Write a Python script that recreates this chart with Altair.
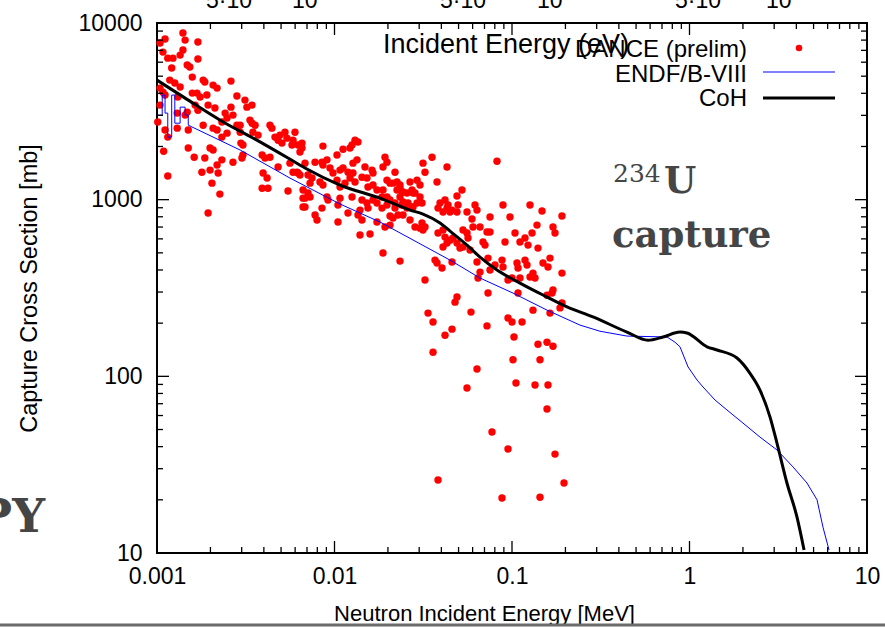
import altair as alt
import pandas as pd

# ---------------- data ----------------
dance_e = [
    1.04e-3, 1.11e-3, 1.40e-3, 1.44e-3, 1.70e-3, 1.08e-3, 1.15e-3, 1.23e-3, 1.35e-3, 1.40e-3,
    1.21e-3, 1.48e-3, 1.53e-3, 1.70e-3, 1.18e-3, 1.26e-3, 1.35e-3, 1.58e-3, 1.82e-3, 1.86e-3,
    2.07e-3, 2.18e-3, 2.61e-3, 1.04e-3, 1.08e-3, 1.11e-3, 1.58e-3, 1.68e-3, 1.75e-3, 1.91e-3,
    2.82e-3, 1.31e-3, 1.94e-3, 2.12e-3, 1.64e-3, 1.70e-3, 2.61e-3, 3.13e-3, 3.43e-3, 3.21e-3,
    1.04e-3, 1.01e-3, 1.30e-3, 1.11e-3, 1.15e-3, 1.30e-3, 1.48e-3, 1.44e-3, 1.82e-3, 1.50e-3,
    2.07e-3, 2.18e-3, 2.32e-3, 2.48e-3, 2.42e-3, 2.68e-3, 2.82e-3, 2.94e-3, 2.94e-3, 3.34e-3,
    3.43e-3, 3.57e-3, 3.47e-3, 3.71e-3, 2.48e-3, 2.32e-3, 4.33e-3, 4.44e-3, 4.62e-3, 4.93e-3,
    5.26e-3, 5.99e-3, 4.81e-3, 5.06e-3, 5.40e-3, 5.76e-3, 6.23e-3, 6.56e-3, 1.99e-3, 2.07e-3,
    1.50e-3, 1.09e-3, 2.97e-3, 3.05e-3, 1.62e-3, 1.86e-3, 2.32e-3, 2.68e-3, 3.01e-3, 3.05e-3,
    2.18e-3, 2.21e-3, 1.99e-3, 1.79e-3, 1.15e-3, 3.91e-3, 4.06e-3, 4.33e-3, 3.96e-3, 4.17e-3,
    4.81e-3, 5.61e-3, 5.84e-3, 6.23e-3, 2.04e-3, 3.91e-3, 4.22e-3, 5.47e-3, 2.26e-3, 6.65e-3,
    6.65e-3, 1.94e-3,
    # 0.006 - 0.045 MeV
    5.84e-3, 6.56e-3, 6.39e-3, 8.61e-3, 0.01305, 0.01356, 0.01255, 0.01223, 0.01117, 0.01033,
    7.77e-3, 8.50e-3, 9.07e-3, 8.61e-3, 9.43e-3, 6.82e-3, 9.81e-3, 0.01074, 0.01117, 0.01191,
    0.01271, 0.01339, 0.01271, 0.01485, 0.01626, 0.01648, 0.01925, 0.01976, 0.01876, 0.02192,
    0.03152, 0.03235, 0.03543, 0.04304, 6.15e-3, 6.39e-3, 7.09e-3, 7.47e-3, 7.28e-3, 8.28e-3,
    8.61e-3, 0.01033, 0.01074, 0.01146, 0.01223, 0.01305, 0.01428, 0.01524, 0.01544, 0.01648,
    0.01735, 0.01976, 0.02055, 0.02250, 0.02339, 0.02401, 0.02663, 0.02917, 0.02733, 0.02842,
    0.03032, 0.03781, 6.65e-3, 7.09e-3, 6.82e-3, 7.28e-3, 9.07e-3, 9.19e-3, 0.01074, 0.01046,
    0.01255, 0.01428, 0.01524, 0.01648, 0.01735, 0.01852, 0.01976, 0.02192, 0.02401, 0.02561,
    0.02733, 0.02917, 0.03112, 0.03930, 0.03830, 0.04194, 0.04304, 6.82e-3, 8.50e-3, 7.77e-3,
    7.97e-3, 0.01046, 0.01191, 0.01392, 0.01356, 0.01428, 0.01544, 0.01735, 0.02055, 0.02432,
    0.02663, 0.03112, 0.03235, 0.03152, 0.03032, 0.03830, 0.04194, 0.04304, 0.04087, 0.01392,
    0.01585, 0.01925, 0.01876, 0.02339, 0.03235, 0.03684, 0.03781, 0.04034,
    # 0.02 - 0.2 MeV
    0.08232, 0.02136, 0.02339, 0.02250, 0.02432, 0.03032, 0.01876, 0.01976, 0.02055, 0.01852,
    0.02561, 0.02770, 0.02339, 0.02432, 0.02595, 0.02770, 0.02192, 0.02136, 0.02280, 0.02055,
    0.02842, 0.04361, 0.04592, 0.04964, 0.05227, 0.04899, 0.04087, 0.04475, 0.04899, 0.05578,
    0.06188, 0.06351, 0.07517, 0.08898, 0.09743, 0.1263, 0.1476, 0.1912, 0.05952, 0.06030,
    0.06603, 0.07230, 0.07517, 0.05296, 0.05578, 0.05651, 0.04087, 0.04475, 0.04652, 0.04899,
    0.05093, 0.05296, 0.05799, 0.06865, 0.07046, 0.09134, 0.1040, 0.1109, 0.1184, 0.1231,
    0.1297, 0.1383, 0.1702, 0.1747, 0.1401, 0.04592, 0.06351, 0.06603, 0.06434, 0.07325,
    0.07517, 0.08021, 0.08784, 0.08898, 0.09495, 0.1000, 0.1067, 0.1081, 0.1109, 0.1184,
    0.1215, 0.1263, 0.1313, 0.1348, 0.1495, 0.1595, 0.1637, 0.1702, 0.1912, 0.1912,
    0.1864, 0.1575, 0.1680, 0.1313, 0.1637, 0.04899, 0.04775, 0.1081, 0.07325, 0.09495,
    0.1000, 0.1139, 0.03364, 0.03590, 0.05875, 0.04592, 0.04194, 0.07230, 0.1026, 0.1401,
    0.1575, 0.1702, 0.03590, 0.1013, 0.1438, 0.06351, 0.05578, 0.1053, 0.1348, 0.1595,
    0.1575, 0.07714, 0.09495, 0.1747, 0.03830, 0.1963, 0.08784, 0.1438,
]
dance_s = [
    7700, 8110, 8770, 8000, 7800, 6845, 6325, 6325, 6580, 7030,
    5560, 5780, 5630, 6250, 4750, 4570, 4340, 4940, 4750, 4630,
    4450, 4280, 4690, 4280, 4060, 3910, 4010, 4010, 3810, 3910,
    3860, 3810, 3430, 3300, 3430, 3210, 3340, 3660, 3430, 3340,
    3430, 2750, 3090, 2480, 2260, 2540, 3130, 3010, 2640, 2480,
    2540, 2480, 2750, 2900, 3090, 3010, 2640, 2640, 2410, 2820,
    2710, 2640, 2410, 2320, 2380, 2260, 2640, 2540, 2260, 2320,
    2410, 2410, 2170, 2090, 2230, 2040, 2040, 2090, 1960, 1910,
    1960, 1880, 2090, 2040, 1740, 1720, 1680, 1630, 1720, 1790,
    1570, 1415, 1470, 1430, 1360, 1790, 1720, 1740, 1415, 1325,
    1530, 1610, 1430, 1415, 1240, 1160, 1160, 1120, 1075, 1020,
    908, 840,
    2170, 1960, 1860, 2010, 2170, 2120, 2040, 1960, 1930, 1790,
    1630, 1630, 1680, 1570, 1510, 1610, 1415, 1470, 1510, 1430,
    1415, 1680, 1610, 1530, 1470, 1415, 1740, 1630, 1530, 1430,
    1610, 1430, 1740, 1530, 1430, 1380, 1380, 1325, 1240, 1260,
    1210, 1290, 1180, 1240, 1325, 1260, 1340, 1325, 1180, 1210,
    1135, 1290, 1240, 1260, 1160, 1105, 1260, 1290, 1135, 1090,
    1035, 1260, 1135, 1090, 1020, 1035, 1035, 995, 1020, 932,
    1035, 995, 957, 995, 957, 1035, 932, 957, 932, 896,
    908, 957, 957, 957, 896, 995, 896, 908, 896, 818,
    767, 747, 840, 873, 818, 767, 896, 747, 808, 818,
    767, 738, 700, 673, 690, 647, 614, 568, 540, 631,
    639, 700, 499, 449, 351, 455, 438, 410,
    1650, 1240, 1210, 1135, 1105, 1210, 1135, 1035, 995, 896,
    1090, 1090, 1035, 970, 957, 908, 896, 787, 818, 718,
    700, 932, 873, 932, 1135, 1050, 851, 851, 851, 851,
    932, 873, 797, 932, 797, 932, 862, 808, 777, 700,
    700, 656, 656, 673, 647, 607, 673, 590, 607, 568,
    532, 540, 519, 576, 553, 576, 647, 576, 607, 553,
    647, 718, 700, 647, 532, 444, 444, 389, 360, 467,
    400, 427, 455, 416, 351, 360, 438, 410, 360, 455,
    427, 365, 384, 360, 438, 416, 467, 308, 384, 260,
    244, 288, 296, 237, 228, 281, 263, 296, 296, 214,
    203, 203, 228, 203, 231, 185, 171, 193, 167, 152,
    156, 148, 137, 124, 124, 110, 85.9, 91.6, 89.3, 89.3,
    65.3, 48.4, 38.8, 36.3, 25.9, 24.9, 20.5, 20.7,
]

endf_e = [0.001, 1.07e-3, 1.07e-3, 1.11e-3, 1.11e-3, 1.15e-3, 1.15e-3, 1.21e-3, 1.21e-3,
          1.26e-3, 1.26e-3, 1.35e-3, 1.35e-3, 1.44e-3, 1.44e-3, 1.50e-3, 1.50e-3,
          2.94e-3, 5.61e-3, 0.01074, 0.01805, 0.04475, 0.06603, 0.1013, 0.1575, 0.2416,
          0.3132, 0.4443, 0.7468, 0.8285, 0.8838, 0.9817, 1.103, 1.192, 1.393, 1.626,
          2.0, 2.495, 3.11, 3.83, 4.59, 5.23, 5.65, 6.11]
endf_s = [3010, 3010, 3910, 3910, 3090, 3090, 2260, 2260, 3910,
          3910, 2710, 2710, 3340, 3340, 3010, 3010, 2640,
          1910, 1325, 945, 747, 455, 360, 296, 237, 195,
          180, 169, 167, 156, 147, 113, 95.3, 87.0, 73.4, 64.5,
          54.4, 45.3, 38.3, 30.7, 24.9, 20.0, 14.0, 10.4]

coh_e = [0.001, 1.50e-3, 2.32e-3, 3.57e-3, 5.47e-3, 6.82e-3, 0.01074, 0.01805, 0.02663,
         0.03152, 0.0393, 0.04475, 0.05578, 0.06603, 0.08232, 0.1109, 0.1575, 0.2042,
         0.2858, 0.4443, 0.5837, 0.7096, 0.8838, 0.9683, 1.255, 1.429, 1.852, 2.193,
         2.495, 2.843, 3.11, 3.54, 4.03, 4.42]
coh_s = [4750, 3660, 2780, 2200, 1720, 1510, 1210, 1020, 873,
         829, 738, 664, 553, 473, 400, 337, 281, 247,
         217, 178, 160, 167, 178, 176, 147, 141, 127, 104,
         83.6, 58.8, 41.9, 24.9, 16.0, 10.4]

x_major = [0.001, 0.01, 0.1, 1, 10]
y_major = [10, 100, 1000, 10000]
x_minor = [m * 10.0 ** k for k in range(-3, 1) for m in range(2, 10)]
y_minor = [m * 10.0 ** k for k in range(1, 4) for m in range(2, 10)]

legend_labels = ["DANCE (prelim)", "ENDF/B-VIII", "CoH"]
overlay_title = "Incident Energy (eV)"
nuclide_mass = "234"
nuclide_symbol = "U"
reaction = "capture"
side_fragment = "PY"
top_fragments = ["5\u00b710", "10", "5\u00b710", "10", "5\u00b710", "10"]

# ---------------- chart ----------------
W, H = 710, 530
FONT = "Liberation Sans"
SERIF = "DejaVu Serif"
GRAY = "#454545"

xs = alt.Scale(type="log", domain=[0.001, 10])
ys = alt.Scale(type="log", domain=[10, 10000])

x_axis = alt.Axis(values=x_major, format="~g", ticks=False, domain=False, grid=False,
                  labelFlush=False, labelPadding=12, labelFontSize=23, labelFont=FONT,
                  labelColor="black", title="Neutron Incident Energy [MeV]",
                  titleFont=FONT, titleFontSize=22, titleFontWeight="normal",
                  titleColor="black", titleX=327, titleY=60, titleBaseline="middle")
y_axis = alt.Axis(values=y_major, format="d", ticks=False, domain=False, grid=False,
                  labelPadding=15, labelFontSize=23, labelFont=FONT, labelColor="black",
                  title="Capture Cross Section [mb]", titleFont=FONT, titleFontSize=23.5,
                  titleFontWeight="normal", titleColor="black", titleAngle=-90,
                  titleX=-128, titleY=265, titleBaseline="middle", titleAlign="center")


def X(field):
    return alt.X(field, type="quantitative", scale=xs, axis=x_axis)


def Y(field):
    return alt.Y(field, type="quantitative", scale=ys, axis=y_axis)


df_dance = pd.DataFrame({"E": dance_e, "S": dance_s})
df_endf = pd.DataFrame({"E": endf_e, "S": endf_s, "i": list(range(len(endf_e)))})
df_coh = pd.DataFrame({"E": coh_e, "S": coh_s})

points = alt.Chart(df_dance).mark_circle(color="#ff0000", opacity=1, size=55).encode(
    x=X("E"), y=Y("S"))
endf = alt.Chart(df_endf).mark_line(color="#0000ff", strokeWidth=1, clip=True).encode(
    x=X("E"), y=Y("S"), order="i:Q")
coh = alt.Chart(df_coh).mark_line(color="black", strokeWidth=3, clip=True,
                                  interpolate="monotone").encode(x=X("E"), y=Y("S"))


# inward ticks on all four sides
def xticks(vals, length):
    d = pd.DataFrame({"E": vals})
    b = alt.Chart(d).mark_rule(color="black", strokeWidth=1.3).encode(
        x=X("E"), y=alt.value(H), y2=alt.value(H - length))
    t = alt.Chart(d).mark_rule(color="black", strokeWidth=1.3).encode(
        x=X("E"), y=alt.value(0), y2=alt.value(length))
    return [b, t]


def yticks(vals, length):
    d = pd.DataFrame({"S": vals})
    l = alt.Chart(d).mark_rule(color="black", strokeWidth=1.3).encode(
        y=Y("S"), x=alt.value(0), x2=alt.value(length))
    r = alt.Chart(d).mark_rule(color="black", strokeWidth=1.3).encode(
        y=Y("S"), x=alt.value(W), x2=alt.value(W - length))
    return [l, r]


tick_layers = xticks(x_major, 12) + xticks(x_minor, 6) + yticks(y_major, 12) + yticks(y_minor, 6)


def label(text, x, y, size, font=FONT, align="left", color="black", weight="normal"):
    return alt.Chart(pd.DataFrame({"t": [text]})).mark_text(
        font=font, fontSize=size, align=align, baseline="alphabetic", color=color,
        fontWeight=weight).encode(x=alt.value(x), y=alt.value(y), text="t:N")


# legend
leg = [
    label(overlay_title, 226, 30, 27),
    label(legend_labels[0], 590, 34, 24, align="right"),
    label(legend_labels[1], 590, 59, 24, align="right"),
    label(legend_labels[2], 590, 83, 24, align="right"),
    alt.Chart(pd.DataFrame({"t": [legend_labels[0]]})).mark_circle(
        color="#ff0000", opacity=1, size=42).encode(x=alt.value(642), y=alt.value(25)),
    alt.Chart(pd.DataFrame({"t": [legend_labels[1]]})).mark_rule(
        color="#0000ff", strokeWidth=1).encode(x=alt.value(606), x2=alt.value(678), y=alt.value(49)),
    alt.Chart(pd.DataFrame({"t": [legend_labels[2]]})).mark_rule(
        color="black", strokeWidth=3).encode(x=alt.value(606), x2=alt.value(678), y=alt.value(75)),
]

annot = [
    label(nuclide_mass, 456, 159, 25, font=SERIF, color=GRAY),
    label(nuclide_symbol, 507, 170, 37, font=SERIF, color=GRAY, weight="bold"),
    label(reaction, 455, 224, 37, font=SERIF, color=GRAY, weight="bold"),
    label(side_fragment, -112, 509, 46, font=SERIF, color=GRAY, align="right", weight="bold"),
]
frag_x = [49, 135, 283, 380, 518, 609]
for fx, ft in zip(frag_x, top_fragments):
    annot.append(label(ft, fx, -15, 23))

bottom_line = alt.Chart(pd.DataFrame({"t": ["line"]})).mark_rule(
    color="#6a6a6a", strokeWidth=3).encode(x=alt.value(-157), x2=alt.value(728), y=alt.value(602))

chart = alt.layer(points, endf, coh, *tick_layers, *leg, *annot, bottom_line).properties(
    width=W, height=H,
    autosize=alt.AutoSizeParams(type="none"),
    padding={"left": 157, "top": 23, "right": 18, "bottom": 74},
    background="white",
).configure_view(stroke="black", strokeWidth=2)

chart.save("out.html", embed_options={"renderer": "svg", "actions": False})
